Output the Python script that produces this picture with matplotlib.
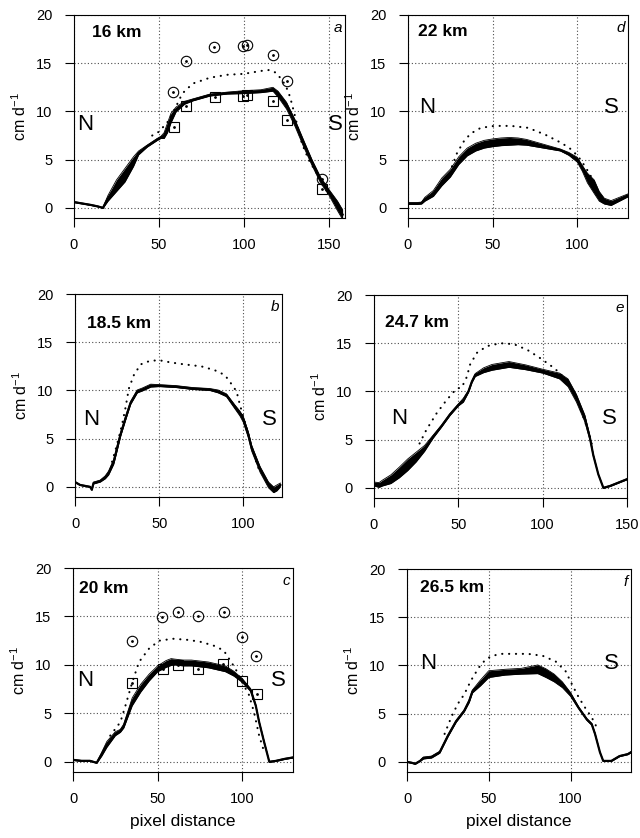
import matplotlib
matplotlib.use("Agg")
import matplotlib.pyplot as plt

plt.rcParams['font.family'] = ['Liberation Sans', 'DejaVu Sans']
plt.rcParams['mathtext.default'] = 'regular'

# ---- panel a : 16 km ----
A_X = [0, 5, 10, 14, 17, 20, 25, 30, 35, 38, 43, 49, 51, 53, 55, 57, 60, 65, 70, 80, 90, 100, 110, 117,
       120, 125, 130, 135, 140, 145, 150, 155, 158]
A_Y = [0.6, 0.45, 0.3, 0.15, 0.0, 1.0, 2.3, 3.4, 4.8, 5.7, 6.4, 7.1, 7.3, 7.5, 8.3, 9.3, 10.2, 10.9, 11.2, 11.7,
       11.9, 12.0, 12.1, 12.3, 11.8, 10.6, 8.8, 6.7, 4.7, 2.9, 1.6, 0.2, -0.7]
A_B = [0.05, 0.05, 0.05, 0.05, 0.05, 0.3, 0.6, 0.7, 0.5, 0.2, 0.1, 0.1, 0.1, 0.3, 0.5, 0.5, 0.25, 0.15, 0.1, 0.1,
       0.1, 0.15, 0.15, 0.2, 0.3, 0.35, 0.35, 0.35, 0.3, 0.3, 0.3, 0.5, 0.5]
A_DX = [46, 50, 55, 58, 60, 63, 65, 70, 80, 90, 100, 110, 115, 119, 123, 126, 128, 130, 132, 134, 138, 142, 146, 150]
A_DY = [7.5, 7.9, 8.9, 9.8, 10.5, 11.6, 12.1, 12.9, 13.5, 13.8, 13.9, 14.2, 14.3, 14.0, 13.1, 12.1, 10.9, 9.5,
        8.1, 6.7, 5.0, 3.8, 2.6, 1.3]
A_CX = [58.4, 65.7, 82.5, 99.6, 101.6, 116.9, 125.5, 145.7]
A_CY = [12.0, 15.2, 16.7, 16.8, 16.9, 15.9, 13.2, 3.0]
A_SX = [58.8, 65.9, 82.9, 99.6, 102.0, 116.9, 125.5, 145.7]
A_SY = [8.4, 10.6, 11.5, 11.6, 11.7, 11.1, 9.1, 2.0]

# ---- panel b : 18.5 km ----
B_X = [0, 3, 6, 9, 10, 11, 15, 18, 20, 23, 25, 27, 30, 33, 37, 40, 45, 50, 60, 70, 80, 85, 90, 95, 98,
       100, 103, 105, 110, 115, 118, 120, 122]
B_Y = [0.5, 0.2, 0.1, 0.0, -0.3, 0.4, 0.6, 1.0, 1.45, 2.6, 4.0, 5.4, 7.1, 8.7, 9.9, 10.1, 10.5, 10.5, 10.4, 10.2,
       10.1, 9.9, 9.5, 8.3, 7.6, 7.0, 5.4, 4.0, 1.8, 0.2, -0.3, -0.1, 0.2]
B_B = [0.05, 0.05, 0.05, 0.05, 0.05, 0.1, 0.1, 0.15, 0.2, 0.25, 0.25, 0.2, 0.2, 0.15, 0.15, 0.15, 0.15, 0.1, 0.1,
       0.1, 0.1, 0.15, 0.15, 0.2, 0.25, 0.3, 0.3, 0.3, 0.3, 0.3, 0.3, 0.3, 0.2]
B_DX = [22, 24, 26, 28, 30, 32, 35, 39, 45, 51, 57, 65, 75, 83, 89, 92, 96, 98, 100, 102, 104, 106, 108, 110]
B_DY = [2.6, 3.8, 5.1, 6.5, 8.2, 10.2, 11.6, 12.7, 13.1, 13.1, 12.9, 12.7, 12.5, 12.1, 11.6, 10.9, 9.9, 8.5,
        7.3, 6.0, 4.7, 3.6, 2.4, 1.5]

# ---- panel c : 20 km ----
C_X = [0, 5, 10, 14, 17, 20, 25, 28, 30, 35, 40, 45, 50, 55, 58, 60, 65, 70, 75, 80, 85, 90, 95, 100, 105,
       108, 110, 113, 116, 120, 125, 130]
C_Y = [0.2, 0.1, 0.1, -0.1, 0.8, 1.8, 2.9, 3.2, 3.7, 6.2, 7.6, 8.7, 9.6, 10.1, 10.3, 10.3, 10.2, 10.2, 10.1,
       10.0, 9.8, 9.6, 9.1, 8.4, 7.4, 5.8, 4.1, 2.0, 0.0, 0.1, 0.3, 0.45]
C_B = [0.05, 0.05, 0.05, 0.05, 0.2, 0.3, 0.2, 0.15, 0.2, 0.4, 0.4, 0.35, 0.3, 0.35, 0.35, 0.3, 0.3, 0.3, 0.3,
       0.3, 0.3, 0.3, 0.25, 0.2, 0.15, 0.1, 0.1, 0.1, 0.05, 0.05, 0.05, 0.05]
C_DX = [22, 28, 31, 35, 39, 45, 51, 59, 67, 75, 83, 89, 92, 96, 100, 104, 107, 110, 113]
C_DY = [2.7, 4.1, 5.8, 8.2, 10.3, 11.7, 12.5, 12.7, 12.6, 12.4, 12.0, 11.5, 10.7, 9.6, 8.2, 6.9, 5.1, 2.7, 1.0]
C_CX = [34.9, 52.4, 61.8, 73.9, 89.2, 100.0, 108.4]
C_CY = [12.5, 14.9, 15.5, 15.0, 15.5, 12.9, 10.9]
C_SX = [34.7, 52.9, 62.2, 73.9, 88.8, 100.0, 108.8]
C_SY = [8.1, 9.6, 10.0, 9.6, 10.1, 8.3, 7.0]

# ---- panel d : 22 km ----
D_X = [0, 5, 8, 10, 15, 20, 25, 30, 35, 40, 45, 50, 55, 60, 65, 70, 75, 80, 85, 90, 95, 100, 103, 106,
       110, 113, 116, 120, 125, 130]
D_Y = [0.45, 0.45, 0.5, 0.9, 1.5, 2.7, 3.6, 4.9, 5.8, 6.3, 6.6, 6.75, 6.85, 6.9, 6.9, 6.8, 6.6, 6.4, 6.2, 6.0,
       5.6, 5.0, 4.1, 3.1, 2.2, 1.2, 0.7, 0.5, 0.9, 1.3]
D_B = [0.1, 0.1, 0.1, 0.2, 0.3, 0.4, 0.4, 0.4, 0.4, 0.4, 0.4, 0.4, 0.4, 0.4, 0.35, 0.3, 0.25, 0.2, 0.15, 0.1,
       0.15, 0.25, 0.3, 0.5, 0.7, 0.5, 0.3, 0.25, 0.2, 0.15]
D_DX = [26, 29, 33, 37, 43, 51, 61, 71, 81, 91, 97, 102, 106, 108]
D_DY = [4.3, 5.7, 6.9, 7.7, 8.3, 8.5, 8.5, 8.3, 7.6, 6.7, 6.0, 5.0, 3.9, 3.3]

# ---- panel e : 24.7 km ----
E_X = [0, 3, 5, 10, 15, 20, 25, 30, 35, 40, 45, 50, 53, 56, 58, 60, 65, 70, 80, 90, 100, 110, 115, 120,
       125, 128, 130, 133, 136, 140, 145, 150]
E_Y = [0.4, 0.3, 0.5, 0.9, 1.6, 2.4, 3.2, 4.1, 5.3, 6.4, 7.6, 8.6, 9.1, 10.0, 11.0, 11.7, 12.2, 12.5, 12.8,
       12.5, 12.1, 11.6, 10.9, 9.3, 7.2, 5.2, 3.4, 1.4, 0.0, 0.2, 0.55, 0.9]
E_B = [0.2, 0.25, 0.3, 0.45, 0.55, 0.6, 0.5, 0.3, 0.15, 0.1, 0.1, 0.1, 0.2, 0.1, 0.1, 0.15, 0.25, 0.3, 0.3,
       0.25, 0.2, 0.3, 0.4, 0.4, 0.35, 0.2, 0.1, 0.05, 0.05, 0.05, 0.05, 0.05]
E_DX = [27, 31, 37, 43, 49, 52, 55, 57, 61, 67, 75, 83, 91, 99, 107, 113, 119, 123, 127, 130]
E_DY = [4.6, 6.0, 7.7, 9.1, 10.3, 10.4, 11.5, 12.8, 14.0, 14.7, 15.0, 14.9, 14.3, 13.4, 12.4, 11.4, 9.7, 7.9,
        5.9, 4.0]

# ---- panel f : 26.5 km ----
F_X = [0, 3, 5, 8, 10, 15, 20, 25, 30, 35, 38, 40, 45, 50, 60, 70, 80, 85, 90, 95, 100, 105, 110, 113,
       115, 118, 120, 125, 130, 135, 137]
F_Y = [0.0, -0.1, -0.2, 0.1, 0.4, 0.5, 1.0, 2.7, 4.2, 5.3, 6.3, 7.3, 8.2, 9.1, 9.3, 9.4, 9.6, 9.2, 8.7, 8.0,
       7.0, 5.6, 4.4, 3.9, 2.9, 1.0, 0.1, 0.1, 0.6, 0.8, 1.0]
F_B = [0.05, 0.05, 0.05, 0.05, 0.1, 0.1, 0.1, 0.1, 0.1, 0.1, 0.15, 0.15, 0.3, 0.35, 0.3, 0.3, 0.45, 0.45, 0.4,
       0.3, 0.2, 0.1, 0.1, 0.1, 0.1, 0.05, 0.05, 0.05, 0.05, 0.05, 0.05]
F_DX = [23, 27, 31, 35, 39, 44, 48, 52, 58, 66, 74, 83, 91, 97, 101, 105, 109, 113, 116]
F_DY = [2.9, 4.6, 6.0, 7.0, 8.4, 9.8, 10.6, 11.0, 11.2, 11.2, 11.2, 11.0, 10.4, 9.4, 8.0, 6.7, 5.6, 4.6, 3.6]

PANELS = {
    'a': dict(km='16 km', x=A_X, y=A_Y, band=A_B, dx=A_DX, dy=A_DY, cx=A_CX, cy=A_CY, sx=A_SX, sy=A_SY),
    'b': dict(km='18.5 km', x=B_X, y=B_Y, band=B_B, dx=B_DX, dy=B_DY),
    'c': dict(km='20 km', x=C_X, y=C_Y, band=C_B, dx=C_DX, dy=C_DY, cx=C_CX, cy=C_CY, sx=C_SX, sy=C_SY),
    'd': dict(km='22 km', x=D_X, y=D_Y, band=D_B, dx=D_DX, dy=D_DY),
    'e': dict(km='24.7 km', x=E_X, y=E_Y, band=E_B, dx=E_DX, dy=E_DY),
    'f': dict(km='26.5 km', x=F_X, y=F_Y, band=F_B, dx=F_DX, dy=F_DY),
}

# layout: pixel box (left, top, right, bottom), xmax, km label pos, N left, S right, N/S baseline
LAYOUT = {
    'a': dict(box=(74, 15, 345, 218), xmax=159.4, km=(10.6, 17.7), n=1.8, s=158.2, ns=8.1),
    'd': dict(box=(408, 15, 628, 218), xmax=130, km=(5.9, 17.8), n=6.5, s=124.3, ns=9.8),
    'b': dict(box=(75, 294, 282, 497), xmax=123, km=(7.1, 16.5), n=4.8, s=120.2, ns=6.4),
    'e': dict(box=(374, 295, 627, 498), xmax=150, km=(6.5, 16.7), n=10, s=143.8, ns=6.6),
    'c': dict(box=(73, 568, 293, 772), xmax=130, km=(3.5, 17.4), n=2.4, s=126, ns=7.8),
    'f': dict(box=(407, 569, 631, 772), xmax=137, km=(8.0, 17.6), n=8, s=129.4, ns=9.6),
}

W, H = 640, 838
fig = plt.figure(figsize=(W / 100, H / 100), dpi=100)

for key in ['a', 'b', 'c', 'd', 'e', 'f']:
    p = PANELS[key]
    lay = LAYOUT[key]
    l, t, r, b = lay['box']
    ax = fig.add_axes([l / W, 1 - b / H, (r - l) / W, (b - t) / H])
    ax.set_xlim(0, lay['xmax'])
    ax.set_ylim(-1.05, 20)
    ax.set_xticks([v for v in [0, 50, 100, 150] if v <= lay['xmax']])
    ax.set_yticks([0, 5, 10, 15, 20])
    ax.grid(True, linestyle=(0, (1, 2)), color='0.3', linewidth=0.8)
    ax.set_axisbelow(True)
    for sp in ax.spines.values():
        sp.set_linewidth(0.8)
    ax.tick_params(direction='out', length=6.5, width=0.8, labelsize=10.5)
    ax.tick_params(axis='y', pad=9)
    ax.tick_params(axis='x', pad=8)

    lo = [yy - bb for yy, bb in zip(p['y'], p['band'])]
    hi = [yy + bb for yy, bb in zip(p['y'], p['band'])]
    ax.fill_between(p['x'], lo, hi, color='black', linewidth=0)
    ax.plot(p['x'], lo, color='black', lw=0.6)
    ax.plot(p['x'], hi, color='black', lw=0.6)
    ax.plot(p['x'], p['y'], color='black', lw=1.6)
    ax.plot(p['dx'], p['dy'], color='black', lw=1.5, linestyle=(0, (0.1, 3.2)),
            dash_capstyle='round')

    if 'cx' in p:
        ax.plot(p['cx'], p['cy'], 'o', mfc='none', mec='black', ms=7.5, mew=0.8)
        ax.plot(p['cx'], p['cy'], '.', color='black', ms=2)
        ax.plot(p['sx'], p['sy'], 's', mfc='none', mec='black', ms=7, mew=0.8)
        ax.plot(p['sx'], p['sy'], '.', color='black', ms=2)

    ax.text(lay['km'][0], lay['km'][1], p['km'], fontsize=12.5, fontweight='bold', va='baseline')
    ax.text(lay['n'], lay['ns'], 'N', fontsize=16, ha='left', va='baseline')
    ax.text(lay['s'], lay['ns'], 'S', fontsize=16, ha='right', va='baseline')
    ax.text(1 - 3 / (r - l), 1 - 17 / (b - t), key, transform=ax.transAxes, fontsize=11,
            style='italic', ha='right', va='baseline')

    ax.set_ylabel('cm d$^{-1}$', fontsize=11.5, labelpad=5)
    if key in ('c', 'f'):
        ax.set_xlabel('pixel distance', fontsize=12.5, labelpad=6)

fig.savefig('out.png', dpi=100)
